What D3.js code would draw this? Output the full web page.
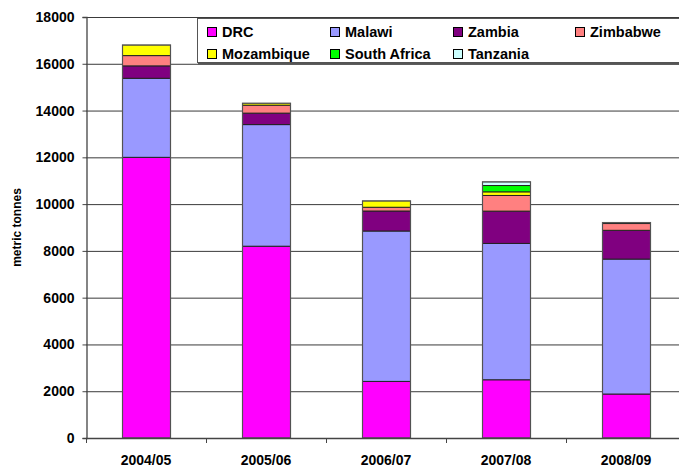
<!DOCTYPE html>
<html><head><meta charset="utf-8">
<script src="https://cdn.jsdelivr.net/npm/d3@7"></script>
<style>body{margin:0;background:#fff}svg{display:block;font-family:"Liberation Sans",Arial,sans-serif;font-weight:bold}</style>
</head><body><svg id="c" width="679" height="466"></svg>
<script>
const categories = ["2004/05","2005/06","2006/07","2007/08","2008/09"];
const seriesNames = ["DRC","Malawi","Zambia","Zimbabwe","Mozambique","South Africa","Tanzania"];
const DRC          = [12000, 8200, 2420, 2490, 1880];
const Malawi       = [ 3380, 5200, 6430, 5830, 5770];
const Zambia       = [  530,  490,  855, 1380, 1230];
const Zimbabwe     = [  440,  340,  160,  670,  290];
const Mozambique   = [  450,   80,  270,  155,   40];
const SouthAfrica  = [    0,    0,    0,  270,    0];
const Tanzania     = [    0,    0,    0,  155,    0];
const yTicks = [0,2000,4000,6000,8000,10000,12000,14000,16000,18000];
const colors = ["#FF00FF","#9999FF","#800080","#FF8080","#FFFF00","#00FF00","#CCFFFF"];

const seriesValues = [DRC, Malawi, Zambia, Zimbabwe, Mozambique, SouthAfrica, Tanzania];
const table = categories.map((c,i)=>{const o={cat:c};seriesNames.forEach((s,j)=>o[s]=seriesValues[j][i]);return o;});

const svg = d3.select("#c");
const mLeft = 86, mTop = 17, mBottom = 438, bandW = 120;
const x = d3.scaleBand().domain(categories).range([mLeft, mLeft + bandW*categories.length]).paddingInner(0.6).paddingOuter(0.3);
const xb = d3.scaleBand().domain(categories).range([mLeft, mLeft + bandW*categories.length]);
const y = d3.scaleLinear().domain([0,18000]).range([mBottom, mTop]);

// gridlines
svg.append("g").selectAll("line").data(yTicks.filter(t=>t>0)).join("line")
  .attr("x1",mLeft).attr("x2",700).attr("y1",d=>y(d)+0.5).attr("y2",d=>y(d)+0.5)
  .attr("stroke","#3a3a3a").attr("stroke-width",1);

// bars
const stack = d3.stack().keys(seriesNames)(table);
svg.append("g").selectAll("g").data(stack).join("g")
  .attr("fill",(d,i)=>colors[i])
  .selectAll("rect").data(d=>d.filter(p=>p[1]-p[0]>0)).join("rect")
  .attr("x",d=>x(d.data.cat)+0.5).attr("width",x.bandwidth())
  .attr("y",d=>y(d[1])).attr("height",d=>y(d[0])-y(d[1]))
  .attr("stroke","#222").attr("stroke-width",1);
// bar side outline (gray)
svg.append("g").selectAll("rect").data(categories).join("rect")
  .attr("x",d=>x(d)+0.5).attr("width",x.bandwidth())
  .attr("y",(d,i)=>y(d3.sum(seriesValues,s=>s[i]))).attr("height",(d,i)=>mBottom-y(d3.sum(seriesValues,s=>s[i])))
  .attr("fill","none").attr("stroke","#666").attr("stroke-width",1.3).attr("stroke-opacity",0.7);

// y axis
const ya = svg.append("g").attr("transform",`translate(${mLeft+0.5},0)`)
  .call(d3.axisLeft(y).tickValues(yTicks).tickFormat(d3.format("d")).tickSize(4).tickPadding(8));
ya.select(".domain").attr("stroke","#444").attr("stroke-width",1.3);
ya.selectAll(".tick line").attr("stroke","#444");
ya.selectAll("text").attr("font-size",14).attr("font-weight","bold").attr("font-family","Liberation Sans, Arial, sans-serif").attr("fill","#000");

// x axis
const xa = svg.append("g").attr("transform",`translate(0,${mBottom+0.5})`)
  .call(d3.axisBottom(xb).tickSize(0).tickPadding(0));
xa.select(".domain").attr("stroke","#444").attr("stroke-width",1.3).attr("d",`M${mLeft},0H700`);
xa.selectAll("text").attr("font-size",14).attr("font-weight","bold").attr("font-family","Liberation Sans, Arial, sans-serif").attr("fill","#000").attr("dy",null).attr("y",26);
svg.append("g").selectAll("line").data(categories).join("line")
  .attr("x1",d=>xb(d)+0.5).attr("x2",d=>xb(d)+0.5).attr("y1",mBottom).attr("y2",mBottom+5)
  .attr("stroke","#444");

// axis title
svg.append("text").attr("transform",`translate(21,${(mTop+mBottom)/2}) rotate(-90)`)
  .attr("text-anchor","middle").attr("font-size",12).text("metric tonnes");

// legend
const lg = svg.append("g");
lg.append("rect").attr("x",197.5).attr("y",18.5).attr("width",520).attr("height",44)
  .attr("fill","#fff").attr("stroke","#555").attr("stroke-width",1);
lg.append("line").attr("x1",198).attr("x2",720).attr("y1",63.5).attr("y2",63.5).attr("stroke","#555").attr("stroke-width",2);
const colX = [207,330,453,575], rowY = [27,49];
seriesNames.forEach((s,i)=>{
  const cx = colX[i%4], cy = rowY[Math.floor(i/4)];
  lg.append("rect").attr("x",cx+0.5).attr("y",cy+0.5).attr("width",9).attr("height",9)
    .attr("fill",colors[i]).attr("stroke","#000").attr("stroke-width",1);
  lg.append("text").attr("x",cx+15).attr("y",cy+10).attr("font-size",14.5).text(s);
});
</script></body></html>
